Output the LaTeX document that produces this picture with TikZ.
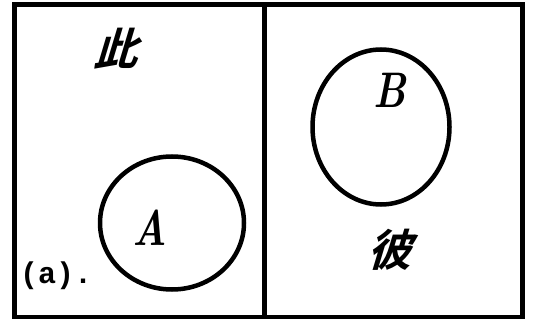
\documentclass[tikz,border=0pt]{standalone}
\usepackage{fontspec}
\newfontfamily\cjk{Noto Sans CJK SC Bold}
\newfontfamily\monob{Liberation Mono Bold}
\usetikzlibrary{shapes.geometric}
\tikzset{
  frame/.style={line width=4.5pt, line join=miter},
  setcircle/.style={ellipse, draw, line width=4.5pt, inner sep=0pt},
  letter/.style={font=\fontsize{50}{50}\selectfont\bfseries\itshape, inner sep=0pt, xscale=0.8},
  hanzi/.style={font=\fontsize{44}{44}\selectfont\cjk, inner sep=0pt, xslant=0.3},
  tag/.style={font=\fontsize{30}{30}\selectfont\monob, inner sep=0pt}
}
\begin{document}
\begin{tikzpicture}[x=1pt,y=1pt]
\useasboundingbox (0,0) rectangle (534,321);
\coordinate (tl) at (14.5,316.5);
\coordinate (br) at (522.5,4);
\coordinate (dtop) at (264.5,316.5);
\coordinate (dbot) at (264.5,4);
\draw[frame] (tl) rectangle (br);
\draw[frame] (dtop) -- (dbot);
\node[setcircle, minimum width=144pt, minimum height=133pt] (cA) at (172,98) {};
\node[setcircle, minimum width=137pt, minimum height=155pt] (cB) at (381,194) {};
\node[letter] (lA) at (150,93) {A};
\node[letter] (lB) at (390,231) {B};
\node[hanzi] (ci) at (121,272) {此};
\node[hanzi] (bi) at (395,71) {彼};
\node[tag, anchor=west] (tagA) at (20,45) {(a).};
\end{tikzpicture}
\end{document}
